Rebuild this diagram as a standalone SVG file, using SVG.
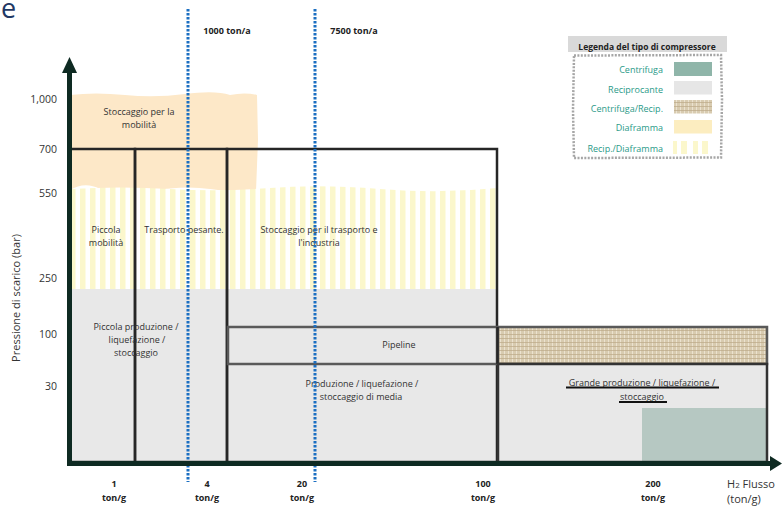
<svg xmlns="http://www.w3.org/2000/svg" width="782" height="513" viewBox="0 0 782 513">
  <style>
    .lbl { font-family: "Open Sans", "Noto Sans", sans-serif; font-size: 9px; fill: #333; text-anchor: middle; }
    .bold { font-family: "Open Sans", "Noto Sans", sans-serif; font-size: 9px; font-weight: bold; fill: #222; text-anchor: middle; }
    .tick { font-family: "Open Sans", "Noto Sans", sans-serif; font-size: 10.5px; fill: #333; text-anchor: end; }
    .leg { font-family: "Open Sans", "Noto Sans", sans-serif; font-size: 9px; fill: #2a9a88; text-anchor: end; }
    .box { fill: none; stroke: #262626; stroke-width: 2.5; }
    .pipe { stroke: #595959; stroke-width: 2.5; }
    .guide { stroke: #1b6fc2; stroke-width: 3; stroke-dasharray: 2.6 1.4; fill: none; }
    .axis { stroke: #0e2a22; stroke-width: 5; fill: none; }
  </style>
  <defs>
    <pattern id="stripes" patternUnits="userSpaceOnUse" width="10" height="10">
      <rect width="10" height="10" fill="#ffffff"/>
      <rect x="0" width="5.5" height="10" fill="#fbf7cc"/>
    </pattern>
    <pattern id="burlap" patternUnits="userSpaceOnUse" width="4" height="4">
      <rect width="4" height="4" fill="#d8cbb0"/>
      <rect x="0" y="0" width="1" height="4" fill="#ebe2cf"/>
      <rect x="0" y="2" width="4" height="1" fill="#bca988" opacity="0.7"/>
    </pattern>
  </defs>

  <rect width="782" height="513" fill="#ffffff"/>

  <!-- heading letter at the top-left corner -->
  <text x="1" y="18" font-family="Open Sans, Noto Sans, sans-serif" font-size="27" fill="#1f3864">e</text>

  <!-- compressor regions -->
  <g id="diaframma-area">
    <path d="M70,95 Q95,92 125,95 T185,94 T230,95 Q245,92 257,95 L258,140 L256,191 Q235,193 210,189 T150,191 T100,189 T70,190 Z" fill="#fde8c8"/>
  </g>
  <g id="recip-diaframma-area">
    <path d="M71,189 Q120,186 170,189 T270,188 T380,189 T497,188 L497,290 L71,290 Z" fill="url(#stripes)"/>
  </g>
  <g id="reciprocante-area">
    <rect x="70" y="289" width="427" height="173" fill="#e8e8e8"/>
  </g>

  <!-- application boxes -->
  <g id="box-piccola">
    <rect class="box" x="70" y="149" width="65" height="313"/>
  </g>
  <g id="box-trasporto">
    <rect class="box" x="135" y="149" width="92" height="313"/>
  </g>
  <g id="box-industria">
    <rect class="box" x="227" y="149" width="270" height="313"/>
  </g>
  <g id="pipeline">
    <rect x="228" y="327" width="269" height="37" fill="#e8e8e8" class="pipe"/>
    <rect x="498" y="327" width="269" height="37" fill="url(#burlap)" class="pipe"/>
    <line x1="497.5" y1="327" x2="497.5" y2="364" stroke="#262626" stroke-width="2.5"/>
  </g>
  <g id="box-grande">
    <rect x="498" y="364" width="269" height="98" fill="#e8e8e8"/>
    <rect x="642" y="408" width="125" height="54" fill="#b6c8c2"/>
    <rect x="498" y="364" width="269" height="98" fill="none" stroke="#333" stroke-width="2.5"/>
  </g>

  <!-- region labels -->
  <g id="labels">
    <text class="lbl" x="139" y="115">Stoccaggio per la</text>
    <text class="lbl" x="139" y="128">mobilità</text>
    <text class="lbl" x="106" y="233">Piccola</text>
    <text class="lbl" x="106" y="246">mobilità</text>
    <text class="lbl" x="184" y="233">Trasporto pesante.</text>
    <text class="lbl" x="319" y="233">Stoccaggio per il trasporto e</text>
    <text class="lbl" x="319" y="246">l'industria</text>
    <text class="lbl" x="136" y="330">Piccola produzione /</text>
    <text class="lbl" x="137" y="343">liquefazione /</text>
    <text class="lbl" x="136" y="356">stoccaggio</text>
    <text class="lbl" x="399" y="348">Pipeline</text>
    <text class="lbl" x="362" y="387">Produzione / liquefazione /</text>
    <text class="lbl" x="361" y="400">stoccaggio di media</text>
    <text class="lbl" x="642" y="386">Grande produzione / liquefazione /</text>
    <text class="lbl" x="642" y="400">stoccaggio</text>
    <line x1="566" y1="387.5" x2="719" y2="387.5" stroke="#111" stroke-width="2"/>
    <line x1="619" y1="402" x2="667" y2="402" stroke="#111" stroke-width="2"/>
  </g>

  <!-- axes and guide lines -->
  <g id="connectors">
    <line class="guide" x1="188" y1="9" x2="188" y2="482"/>
    <line class="guide" x1="315" y1="9" x2="315" y2="482"/>
    <line class="axis" x1="69.5" y1="465" x2="69.5" y2="72"/>
    <polygon points="62,73 77,73 69.5,57" fill="#0e2a22"/>
    <line class="axis" x1="67" y1="463.5" x2="771" y2="463.5"/>
    <polygon points="770,456 770,471 782,463.5" fill="#0e2a22"/>
  </g>

  <!-- axis annotations -->
  <g id="axis-labels">
    <text class="bold" x="227" y="34">1000 ton/a</text>
    <text class="bold" x="354" y="34">7500 ton/a</text>

    <text class="tick" x="57" y="103">1,000</text>
    <text class="tick" x="57" y="153">700</text>
    <text class="tick" x="57" y="197">550</text>
    <text class="tick" x="57" y="282">250</text>
    <text class="tick" x="57" y="338">100</text>
    <text class="tick" x="57" y="390">30</text>

    <text transform="translate(20,298) rotate(-90)" font-family="Open Sans, Noto Sans, sans-serif" font-size="11" fill="#333" text-anchor="middle">Pressione di scarico (bar)</text>

    <text class="bold" x="114" y="487">1</text>
    <text class="bold" x="114" y="501">ton/g</text>
    <text class="bold" x="207" y="487">4</text>
    <text class="bold" x="207" y="501">ton/g</text>
    <text class="bold" x="302" y="487">20</text>
    <text class="bold" x="302" y="501">ton/g</text>
    <text class="bold" x="483" y="487">100</text>
    <text class="bold" x="483" y="501">ton/g</text>
    <text class="bold" x="653" y="487">200</text>
    <text class="bold" x="653" y="501">ton/g</text>

    <text x="727" y="488" font-family="Open Sans, Noto Sans, sans-serif" font-size="11" fill="#333">H<tspan font-size="8">2</tspan> Flusso</text>
    <text x="727" y="503" font-family="Open Sans, Noto Sans, sans-serif" font-size="11" fill="#333">(ton/g)</text>
  </g>

  <!-- legend -->
  <g id="legend">
    <rect x="568" y="36" width="159" height="16" fill="#d9d9d9"/>
    <text x="647" y="49.5" font-family="Open Sans, Noto Sans, sans-serif" font-size="8.5" font-weight="bold" fill="#222" text-anchor="middle">Legenda del tipo di compressore</text>
    <path d="M574,55.5 L721,55 L722,100 L721,157.5 L574,158 L573,110 Z" fill="none" stroke="#a6a6a6" stroke-width="2.5" stroke-dasharray="2 1.4"/>

    <text class="leg" x="663" y="73">Centrifuga</text>
    <rect x="674" y="62" width="38" height="14" fill="#8fb5a9"/>
    <text class="leg" x="663" y="93">Reciprocante</text>
    <rect x="674" y="81" width="38" height="13.5" fill="#e6e6e6"/>
    <text class="leg" x="663" y="112">Centrifuga/Recip.</text>
    <rect x="674" y="100" width="38" height="13.5" fill="url(#burlap)"/>
    <text class="leg" x="663" y="131">Diaframma</text>
    <rect x="674" y="120" width="38" height="13.5" fill="#fcedc0"/>
    <text class="leg" x="663" y="152">Recip./Diaframma</text>
    <rect x="673" y="141" width="4" height="13" fill="#fbf7cc"/>
    <rect x="681" y="141" width="6" height="13" fill="#fbf7cc"/>
    <rect x="693" y="141" width="5" height="13" fill="#fbf7cc"/>
    <rect x="702" y="141" width="6" height="13" fill="#fbf7cc"/>
  </g>
</svg>
